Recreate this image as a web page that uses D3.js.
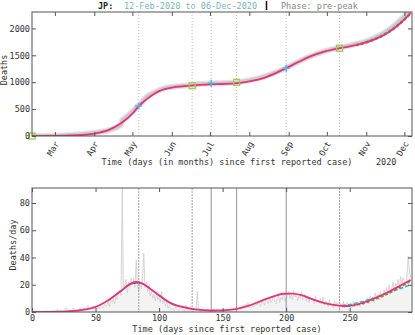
<!DOCTYPE html>
<html>
<head>
<meta charset="utf-8">
<script src="https://cdn.jsdelivr.net/npm/d3@7"></script>
<style>
  body { margin: 0; background: #fff; }
  svg { display: block; font-family: "DejaVu Sans Mono", monospace; }
  text { fill: #333; }
</style>
</head>
<body>
<div id="chart"></div>
<script>
// daily reported deaths, one value per day from 12-Feb-2020 (day 0) to 06-Dec-2020 (day 298)
var dailyFeb = [0,0,0,1,0,0,0,0,0,1,0,1,0,0,1,0,1,0];
var dailyMar = [1,0,2,0,1,1,0,1,2,3, 1,2,1,0,2,3,1,2,1,2, 3,1,2,3,1,2,5,2,3,3, 4];
var dailyApr = [2,3,2,4,2,5,3,3,6,4, 5,8,4,9,7,10,6,12,9,14, 16,12,92,17,20,24,14,22,18,25];
var dailyMay = [20,25,18,38,19,15,22,17,27,43, 18,22,15,20,12,16,10,13,8,14, 9,12,7,15,6,10,4,8,3,5, 2];
var dailyJun = [2,3,1,4,2,1,3,2,1,2, 0,5,1,2,1,2,1,1,2,1, 15,3,1,0,2,1,0,1,2,1];
var dailyJul = [1,0,1,2,0,1,0,1,1,0, 2,1,0,1,1,2,1,0,1,2, 1,2,3,2,4,3,5,4,6,5, 7];
var dailyAug = [3,4,3,6,4,7,5,8,6,4, 9,7,5,10,8,6,11,7,9,12, 8,6,10,13,7,11,9,14,8,10, 12];
var dailySep = [15,10,13,9,16,11,14,8,12,10, 15,9,11,13,8,12,7,11,9,10, 6,12,8,9,7,10,6,11,5,8];
var dailyOct = [7,4,9,5,6,3,8,4,7,5, 3,6,4,8,3,5,7,4,6,3, 5,8,4,6,5,7,4,6,8,5, 7];
var dailyNov = [8,10,6,12,9,11,7,14,10,13, 9,15,12,11,16,13,18,14,20,15, 17,22,16,21,19,24,18,26,20,25];
var dailyDec = [22,18,27,41,30,25];

// fitted curves: [day, value]
var fitDaily = [[0,0],[10,0.05],[20,0.2],[30,0.6],[40,1.6],[50,3.8],[60,8.7],[70,15.5],[77,20.5],[82,22],
  [86,21.3],[90,19],[100,12.3],[110,6],[120,3.4],[130,1.7],[140,1.1],[150,1.2],[160,2.1],[170,4.5],
  [180,8],[190,11.5],[198,13.4],[205,13.5],[212,12.4],[220,9.6],[230,6.6],[240,4.9],[248,4.4],
  [260,6.6],[270,10.3],[280,14.5],[290,19.4],[298,23.5]];
var fitDailyTeal = [[244,4.7],[252,5.8],[262,8.2],[272,11.2],[282,14.6],[290,17.3],[298,20]];
var fitDailyOlive = [[244,4.1],[252,4.6],[262,6.6],[272,10],[282,14.2],[290,18.4],[298,22.6]];
var fitDailyWave1 = [[60,8.5],[70,15.2],[78,20.6],[83,21.4],[88,20.4],[95,15.6],[105,8.8],[115,4.4]];

var fitCumul = [[0,0],[10,1],[20,4],[30,10],[40,22],[50,50],[60,110],[70,235],[80,440],[84,555],[90,680],
  [100,835],[110,900],[120,928],[130,946],[140,958],[150,967],[160,980],[170,1010],[180,1060],
  [190,1150],[200,1262],[210,1380],[220,1490],[230,1570],[242,1632],[250,1665],[260,1720],
  [270,1800],[280,1920],[290,2100],[298,2290]];
var fitCumulTeal = [[255,1695],[265,1768],[275,1872],[285,2018],[298,2290]];
var fitCumulOlive = [[255,1684],[265,1748],[275,1846],[285,1990],[298,2268]];

// marked dates (day index) and values on the cumulative curve
var squareDays = [0, 126, 161, 242];
var squareVals = [0, 935, 998, 1630];
var crossDays = [84, 141, 200];
var crossVals = [557, 980, 1258];

var monthNames = ["Mar","Apr","May","Jun","Jul","Aug","Sep","Oct","Nov","Dec"];
var cumTicks = [0, 500, 1000, 1500, 2000];
var dayTicks = [0, 50, 100, 150, 200, 250];
var rateTicks = [0, 20, 40, 60, 80];

var W = 415, H = 335;
var left = 32, right = 412;
var top1 = 12, bot1 = 136;
var top2 = 188, bot2 = 312;

var daily = [].concat(dailyFeb, dailyMar, dailyApr, dailyMay, dailyJun, dailyJul,
  dailyAug, dailySep, dailyOct, dailyNov, dailyDec);
var cumul = Array.from(d3.cumsum(daily));

var start = new Date(Date.UTC(2020, 1, 12));
function dayToDate(d) { return new Date(start.getTime() + d * 864e5); }

var x = d3.scaleLinear().domain([0, 299]).range([left, right]);
var xTime = d3.scaleUtc().domain([dayToDate(0), dayToDate(299)]).range([left, right]);
var y1 = d3.scaleLinear().domain([0, 2305]).range([bot1, top1]);
var y2 = d3.scaleLinear().domain([0, 91]).range([bot2, top2]);

var svg = d3.select("#chart").append("svg").attr("width", W).attr("height", H);
var defs = svg.append("defs");
defs.append("clipPath").attr("id", "clip1").append("rect")
  .attr("x", left).attr("y", top1).attr("width", right - left).attr("height", bot1 - top1);
defs.append("clipPath").attr("id", "clip2").append("rect")
  .attr("x", left).attr("y", top2).attr("width", right - left).attr("height", bot2 - top2);

var fs = 8.5;
var frameColor = "#555";
var pink = "#e8327a";
var fmt = d3.format("d");

// ---- title
var title = svg.append("g").attr("font-size", fs);
title.append("text").attr("x", 98).attr("y", 8.5).attr("font-weight", "bold").style("fill", "#222").text("JP:");
title.append("text").attr("x", 124).attr("y", 8.5).style("fill", "#7ab6b6").text("12-Feb-2020 to 06-Dec-2020");
title.append("line").attr("x1", 266.5).attr("x2", 266.5).attr("y1", 1).attr("y2", 10)
  .attr("stroke", "#111").attr("stroke-width", 1.5);
title.append("text").attr("x", 281).attr("y", 8.5).style("fill", "#888").text("Phase: pre-peak");

// ---- top panel: cumulative
var p1 = svg.append("g");
var months = monthNames.map(function (m, i) { return new Date(Date.UTC(2020, 2 + i, 1)); });

var lineCum = d3.line().x(function (d, i) { return x(i); }).y(function (d) { return y1(d); });
var lineFit1 = d3.line().x(function (d) { return x(d[0]); }).y(function (d) { return y1(d[1]); })
  .curve(d3.curveMonotoneX);

var g1 = p1.append("g").attr("clip-path", "url(#clip1)");
g1.selectAll("line.vmark")
  .data(crossDays.concat(squareDays.slice(1)))
  .enter().append("line")
  .attr("x1", function (d) { return x(d); }).attr("x2", function (d) { return x(d); })
  .attr("y1", top1).attr("y2", bot1)
  .attr("stroke", "#aaa").attr("stroke-width", 0.8).attr("stroke-dasharray", "1,2");

g1.append("path").datum(cumul).attr("d", lineCum)
  .attr("fill", "none").attr("stroke", "#e4e4e4").attr("stroke-width", 6);
g1.append("path").datum(cumul).attr("d", lineCum)
  .attr("fill", "none").attr("stroke", "#cacaca").attr("stroke-width", 3.5);
g1.append("path").datum(fitCumulTeal).attr("d", lineFit1)
  .attr("fill", "none").attr("stroke", "#2ab0c0").attr("stroke-width", 1.5).attr("stroke-dasharray", "3,2");
g1.append("path").datum(fitCumulOlive).attr("d", lineFit1)
  .attr("fill", "none").attr("stroke", "#8a8a20").attr("stroke-width", 1.5).attr("stroke-dasharray", "3,2");
g1.append("path").datum(fitCumul).attr("d", lineFit1)
  .attr("fill", "none").attr("stroke", pink).attr("stroke-width", 1.8);

p1.selectAll("rect.sq").data(squareDays).enter().append("rect")
  .attr("x", function (d) { return x(d) - 3; })
  .attr("y", function (d, i) { return y1(squareVals[i]) - 3; })
  .attr("width", 6).attr("height", 6)
  .attr("fill", "none").attr("stroke", "#9ccc4c").attr("stroke-width", 1.3);
p1.selectAll("path.cross").data(crossDays).enter().append("path")
  .attr("d", function (d, i) {
    var cx = x(d), cy = y1(crossVals[i]);
    return "M" + (cx - 3.5) + "," + cy + "H" + (cx + 3.5) + "M" + cx + "," + (cy - 3.5) + "V" + (cy + 3.5);
  })
  .attr("stroke", "#5aaee6").attr("stroke-width", 1.5);

// frame + ticks
p1.append("rect").attr("x", left).attr("y", top1).attr("width", right - left).attr("height", bot1 - top1)
  .attr("fill", "none").attr("stroke", frameColor).attr("stroke-width", 1);
p1.append("g").attr("transform", "translate(0," + bot1 + ")")
  .call(d3.axisBottom(xTime).tickValues(months).tickSize(-4).tickFormat(""))
  .call(styleAxis);
p1.append("g").attr("transform", "translate(0," + top1 + ")")
  .call(d3.axisTop(xTime).tickValues(months).tickSize(-4).tickFormat(""))
  .call(styleAxis);
p1.append("g").attr("transform", "translate(" + left + ",0)")
  .call(d3.axisLeft(y1).tickValues(cumTicks).tickSize(-4).tickPadding(2).tickFormat(fmt))
  .call(styleAxis);
p1.append("g").attr("transform", "translate(" + right + ",0)")
  .call(d3.axisRight(y1).tickValues(cumTicks).tickSize(-4).tickFormat(""))
  .call(styleAxis);

p1.selectAll("text.month").data(months).enter().append("text")
  .attr("font-size", fs).attr("text-anchor", "end")
  .attr("transform", function (d) { return "translate(" + (xTime(d) + 2) + "," + (bot1 + 6) + ") rotate(-60)"; })
  .attr("dy", "0.35em")
  .text(function (d, i) { return monthNames[i]; });

svg.append("text").attr("font-size", fs).attr("text-anchor", "middle")
  .attr("x", 227).attr("y", 164.5).text("Time (days (in months) since first reported case)");
svg.append("text").attr("font-size", fs).attr("x", 376).attr("y", 164.5).text("2020");
svg.append("text").attr("font-size", fs).attr("text-anchor", "middle")
  .attr("transform", "translate(7,70) rotate(-90)").text("Deaths");

// ---- bottom panel: daily
var p2 = svg.append("g");
var g2 = p2.append("g").attr("clip-path", "url(#clip2)");

var areaDaily = d3.area().x(function (d, i) { return x(i); }).y0(bot2).y1(function (d) { return y2(d); });
var lineDaily = d3.line().x(function (d, i) { return x(i); }).y(function (d) { return y2(d); });
var lineFit2 = d3.line().x(function (d) { return x(d[0]); }).y(function (d) { return y2(d[1]); })
  .curve(d3.curveMonotoneX);

g2.append("path").datum(daily).attr("d", areaDaily).attr("fill", "#f3f3f3");
g2.append("path").datum(daily).attr("d", lineDaily)
  .attr("fill", "none").attr("stroke", "#c8c8c8").attr("stroke-width", 0.7);

var vDotted = [84, 126, 242], vSolid = [141, 161, 200];
g2.selectAll("line.vd").data(vDotted).enter().append("line")
  .attr("x1", function (d) { return x(d); }).attr("x2", function (d) { return x(d); })
  .attr("y1", top2).attr("y2", bot2)
  .attr("stroke", "#777").attr("stroke-width", 0.7).attr("stroke-dasharray", "2,1");
g2.selectAll("line.vs").data(vSolid).enter().append("line")
  .attr("x1", function (d) { return x(d); }).attr("x2", function (d) { return x(d); })
  .attr("y1", top2).attr("y2", bot2)
  .attr("stroke", "#777").attr("stroke-width", 0.8);

g2.append("path").datum(fitDailyWave1).attr("d", lineFit2)
  .attr("fill", "none").attr("stroke", "#3a5a9a").attr("stroke-width", 1.2);
g2.append("path").datum(fitDailyTeal).attr("d", lineFit2)
  .attr("fill", "none").attr("stroke", "#2ab8c8").attr("stroke-width", 1.5).attr("stroke-dasharray", "4,2");
g2.append("path").datum(fitDailyOlive).attr("d", lineFit2)
  .attr("fill", "none").attr("stroke", "#8a8a20").attr("stroke-width", 1.5).attr("stroke-dasharray", "3,2");
g2.append("path").datum(fitDaily).attr("d", lineFit2)
  .attr("fill", "none").attr("stroke", pink).attr("stroke-width", 1.8);

p2.append("rect").attr("x", left).attr("y", top2).attr("width", right - left).attr("height", bot2 - top2)
  .attr("fill", "none").attr("stroke", frameColor).attr("stroke-width", 1);
p2.append("g").attr("transform", "translate(0," + bot2 + ")")
  .call(d3.axisBottom(x).tickValues(dayTicks).tickSize(-4).tickPadding(3).tickFormat(fmt))
  .call(styleAxis);
p2.append("g").attr("transform", "translate(0," + top2 + ")")
  .call(d3.axisTop(x).tickValues(dayTicks).tickSize(-4).tickFormat(""))
  .call(styleAxis);
p2.append("g").attr("transform", "translate(" + left + ",0)")
  .call(d3.axisLeft(y2).tickValues(rateTicks).tickSize(-4).tickPadding(2).tickFormat(fmt))
  .call(styleAxis);
p2.append("g").attr("transform", "translate(" + right + ",0)")
  .call(d3.axisRight(y2).tickValues(rateTicks).tickSize(-4).tickFormat(""))
  .call(styleAxis);

svg.append("text").attr("font-size", fs).attr("text-anchor", "middle")
  .attr("x", 227).attr("y", 332).text("Time (days since first reported case)");
svg.append("text").attr("font-size", fs).attr("text-anchor", "middle")
  .attr("transform", "translate(16,245) rotate(-90)").text("Deaths/day");

function styleAxis(g) {
  g.select(".domain").remove();
  g.selectAll(".tick line").attr("stroke", frameColor);
  g.selectAll(".tick text").attr("font-size", fs).attr("font-family", "DejaVu Sans Mono").style("fill", "#333");
}
</script>
</body>
</html>
